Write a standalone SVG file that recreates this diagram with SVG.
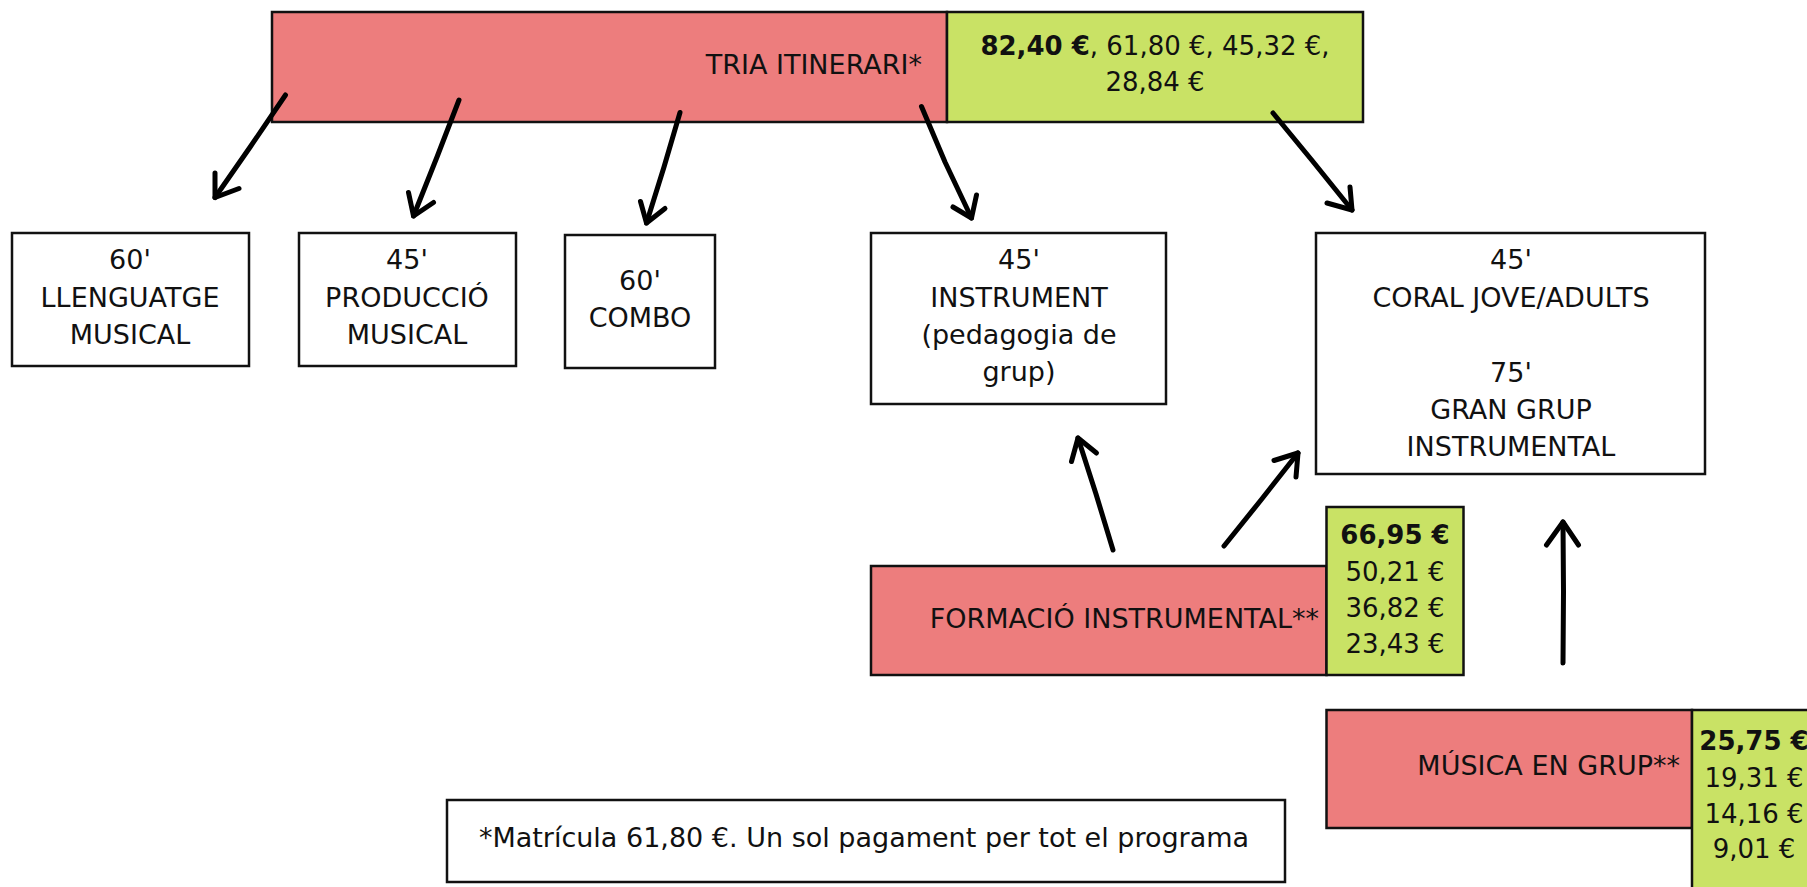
<svg xmlns="http://www.w3.org/2000/svg" width="1807" height="887" viewBox="0 0 1807 887">
<style>
  .t { font-family: "DejaVu Sans", "Liberation Sans", sans-serif; font-size: 27px; fill: #111; }
  .p { font-size: 26px; }
  .c { text-anchor: middle; }
  .e { text-anchor: end; }
  .b { font-weight: bold; }
  .box { fill: #ffffff; stroke: #111; stroke-width: 2.5; }
  .pink { fill: #ed7d7d; stroke: #111; stroke-width: 2.5; }
  .green { fill: #c9e265; stroke: #111; stroke-width: 2.5; }
  .arr { fill: none; stroke: #000; stroke-width: 5; stroke-linecap: round; stroke-linejoin: round; }
</style>
<rect width="1807" height="887" fill="#ffffff"/>

<g id="tria">
  <rect class="pink" x="272" y="12" width="675" height="110"/>
  <rect class="green" x="947" y="12" width="416" height="110"/>
  <text class="t e" x="922" y="74">TRIA ITINERARI*</text>
  <text class="t p c" x="1155" y="55"><tspan class="b">82,40 €</tspan>, 61,80 €, 45,32 €,</text>
  <text class="t p c" x="1155" y="91">28,84 €</text>
</g>

<g id="llenguatge">
  <rect class="box" x="12" y="233" width="237" height="133"/>
  <text class="t c" x="130" y="269">60'</text>
  <text class="t c" x="130" y="307">LLENGUATGE</text>
  <text class="t c" x="130" y="344">MUSICAL</text>
</g>

<g id="produccio">
  <rect class="box" x="299" y="233" width="217" height="133"/>
  <text class="t c" x="407" y="269">45'</text>
  <text class="t c" x="407" y="307">PRODUCCIÓ</text>
  <text class="t c" x="407" y="344">MUSICAL</text>
</g>

<g id="combo">
  <rect class="box" x="565" y="235" width="150" height="133"/>
  <text class="t c" x="640" y="290">60'</text>
  <text class="t c" x="640" y="327">COMBO</text>
</g>

<g id="instrument">
  <rect class="box" x="871" y="233" width="295" height="171"/>
  <text class="t c" x="1019" y="269">45'</text>
  <text class="t c" x="1019" y="307">INSTRUMENT</text>
  <text class="t c" x="1019" y="344">(pedagogia de</text>
  <text class="t c" x="1019" y="381">grup)</text>
</g>

<g id="coral">
  <rect class="box" x="1316" y="233" width="389" height="241"/>
  <text class="t c" x="1511" y="269">45'</text>
  <text class="t c" x="1511" y="307">CORAL JOVE/ADULTS</text>
  <text class="t c" x="1511" y="382">75'</text>
  <text class="t c" x="1511" y="419">GRAN GRUP</text>
  <text class="t c" x="1511" y="456">INSTRUMENTAL</text>
</g>

<g id="formacio">
  <rect class="pink" x="871" y="566" width="455.5" height="109"/>
  <rect class="green" x="1326.5" y="507" width="137" height="168"/>
  <text class="t e" x="1319" y="628">FORMACIÓ INSTRUMENTAL**</text>
  <text class="t p c b" x="1395" y="544">66,95 €</text>
  <text class="t p c" x="1395" y="581">50,21 €</text>
  <text class="t p c" x="1395" y="617">36,82 €</text>
  <text class="t p c" x="1395" y="653">23,43 €</text>
</g>

<g id="musica">
  <rect class="pink" x="1326.5" y="710" width="365.5" height="118"/>
  <rect class="green" x="1692" y="710" width="140" height="200"/>
  <text class="t e" x="1680" y="775">MÚSICA EN GRUP**</text>
  <text class="t p c b" x="1754" y="750">25,75 €</text>
  <text class="t p c" x="1754" y="787">19,31 €</text>
  <text class="t p c" x="1754" y="823">14,16 €</text>
  <text class="t p c" x="1754" y="858">9,01 €</text>
</g>

<g id="nota">
  <rect class="box" x="447" y="800" width="838" height="82"/>
  <text class="t c" x="864" y="847">*Matrícula 61,80 €. Un sol pagament per tot el programa</text>
</g>

<g id="connectors">
  <path class="arr" d="M285.5,95 L250.5,146.5 L215,197.5"/>
  <path class="arr" d="M215,173 L215,197.5 L239,188.5"/>
  <path class="arr" d="M459,100 L437,157 L413.5,216"/>
  <path class="arr" d="M408.5,192.5 L413.5,216 L433.5,202.5"/>
  <path class="arr" d="M680,112.5 L664,167 L646.5,223"/>
  <path class="arr" d="M640.5,201.5 L646.5,223 L665,208.5"/>
  <path class="arr" d="M921.5,106.5 L945,162 L971.5,218"/>
  <path class="arr" d="M953,207 L971.5,218 L976.5,195"/>
  <path class="arr" d="M1273,113 L1312.5,161 L1352,210"/>
  <path class="arr" d="M1327,203 L1352,210 L1350,187"/>
  <path class="arr" d="M1113,550 L1096,494 L1078,438"/>
  <path class="arr" d="M1071.5,461.5 L1078,438 L1096.5,453"/>
  <path class="arr" d="M1224,546 L1261,500 L1298,453"/>
  <path class="arr" d="M1274,460.5 L1298,453 L1296,477"/>
  <path class="arr" d="M1563,663 L1563.5,592 L1563,522"/>
  <path class="arr" d="M1546.5,545 L1563,522 L1578.5,545"/>
</g>
</svg>
